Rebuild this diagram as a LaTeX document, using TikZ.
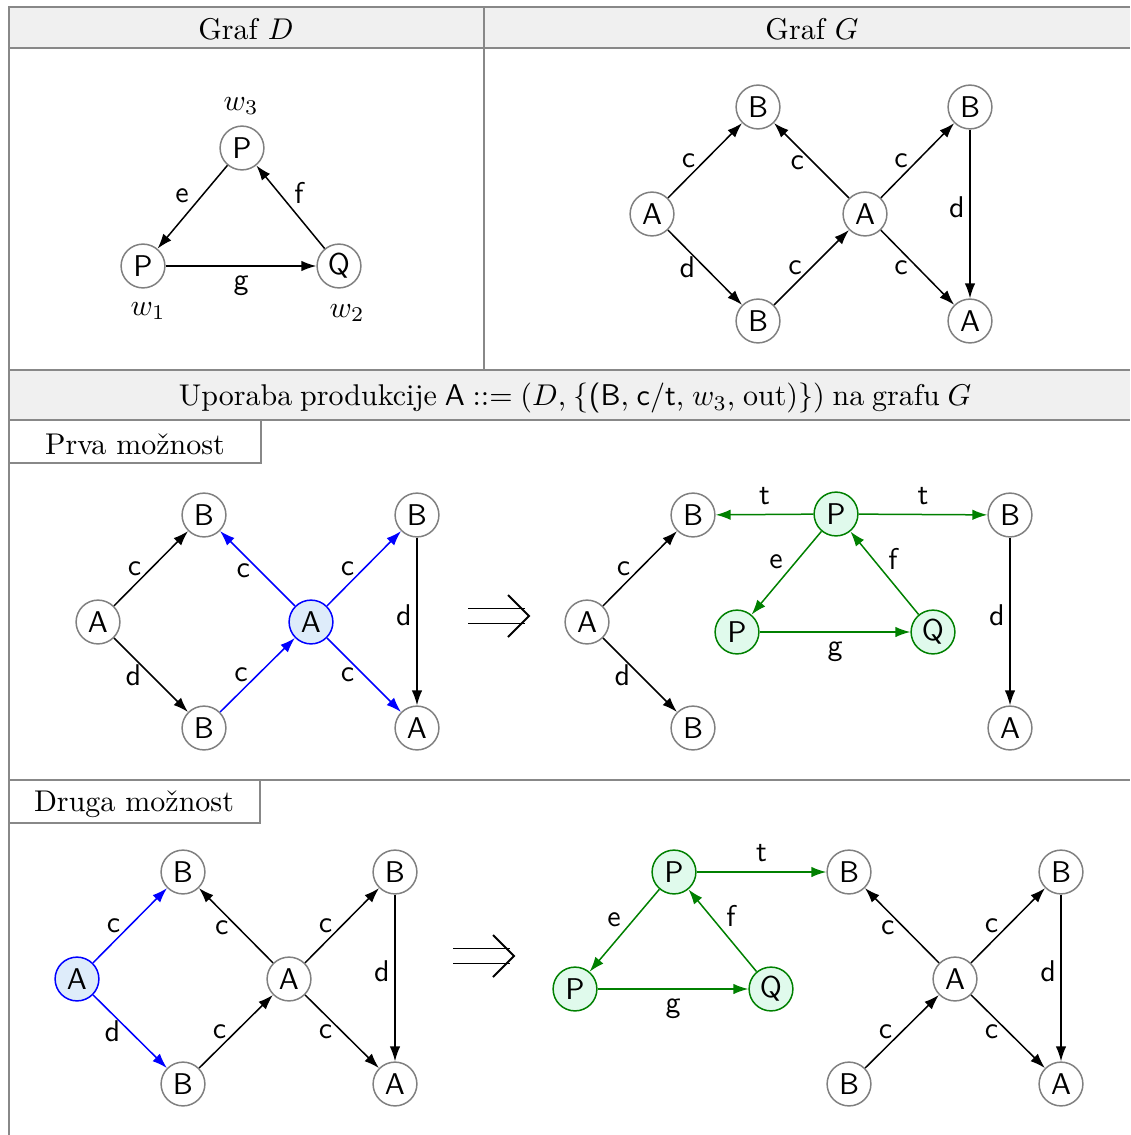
\documentclass[tikz,border=0pt]{standalone}
\usepackage{fontspec}
\usetikzlibrary{arrows.meta}
\definecolor{hdrgray}{RGB}{240,240,240}
\definecolor{rulegray}{RGB}{136,136,136}
\definecolor{selblue}{RGB}{222,236,250}
\definecolor{newgreen}{RGB}{0,128,0}
\definecolor{newfill}{RGB}{224,250,236}

\tikzset{
  pics/dblarrow/.style={code={
    \draw[line width=0.6pt] (-31,-7.5) -- (26,-7.5) (-31,7.5) -- (26,7.5);
    \draw[line width=0.6pt] (9,-21) -- (30,0) -- (9,21);
  }}
}

\begin{document}
\begin{tikzpicture}[x={(0.3333pt,0)}, y={(0,-0.3333pt)},
  >={Latex[length=5pt,width=3.5pt]},
  vertex/.style={circle, draw=gray, line width=0.5pt, minimum size=14.6pt, inner sep=0pt, font=\sffamily},
  selvertex/.style={vertex, draw=blue, fill=selblue},
  newvertex/.style={vertex, draw=newgreen, fill=newfill},
  con/.style={->, line width=0.5pt},
  selcon/.style={con, blue},
  newcon/.style={con, newgreen},
  lab/.style={font=\sffamily, inner sep=3pt, text=black},
  vlab/.style={lab, left, pos=0.46, inner sep=1.5pt},
  tlab/.style={lab, inner sep=1pt},
  rule/.style={draw=rulegray, line width=0.7pt}]
  \useasboundingbox (0,0) rectangle (1130,1135);

  % table
  \fill[hdrgray] (9,7) rectangle (1130,48);
  \fill[hdrgray] (9,370) rectangle (1130,420);
  \draw[rule] (1130,7) -- (9,7) -- (9,1135);
  \draw[rule] (9,48) -- (1130,48);
  \draw[rule] (484,7) -- (484,370);
  \draw[rule] (9,370) -- (1130,370);
  \draw[rule] (9,420) -- (1130,420);
  \draw[rule] (9,780) -- (1130,780);
  \draw[rule] (9,463) -- (261,463) -- (261,420);
  \draw[rule] (9,823) -- (260,823) -- (260,780);

  \node (hD) at (246,29) {Graf $D$};
  \node (hG) at (812,29) {Graf $G$};
  \node (hU) at (575,398) {\spaceskip=2.6pt plus 1pt minus 0.5pt Uporaba produkcije \textsf{A} ::= ($D$, $\{$\textsf{(B}, \textsf{c/t}, $w_3$, out)$\}$) na grafu $G$};
  \node (hP) at (135,444) {Prva možnost};
  \node (hR) at (134,804) {Druga možnost};

  % graf D
  \node[vertex] (dp3) at (242,148) {P};
  \node[vertex] (dp1) at (143,266) {P};
  \node[vertex] (dq) at (339,266) {Q};
  \node (lw3) at (241,106) {$w_3$};
  \node (lw1) at (148,311) {$w_1$};
  \node (lw2) at (347,313) {$w_2$};
  \draw[con] (dp3) -- node[tlab, above left] {e} (dp1);
  \draw[con] (dq) -- node[tlab, above right] {f} (dp3);
  \draw[con] (dp1) -- node[lab, below] {g} (dq);

  % graf G
  \node[vertex] (ga1) at (652,214) {A};
  \node[vertex] (gb1) at (758,107) {B};
  \node[vertex] (gb2) at (758,321) {B};
  \node[vertex] (ga2) at (865,214) {A};
  \node[vertex] (gb3) at (970,107) {B};
  \node[vertex] (ga3) at (970,321) {A};
  \draw[con] (ga1) -- node[lab, left] {c} (gb1);
  \draw[con] (ga1) -- node[lab, left] {d} (gb2);
  \draw[con] (gb2) -- node[lab, left] {c} (ga2);
  \draw[con] (ga2) -- node[lab, left, pos=0.47] {c} (gb1);
  \draw[con] (ga2) -- node[lab, left] {c} (gb3);
  \draw[con] (ga2) -- node[lab, left] {c} (ga3);
  \draw[con] (gb3) -- node[vlab] {d} (ga3);

  % prva moznost
  \node[vertex] (pa1) at (98,622) {A};
  \node[vertex] (pb1) at (204,515) {B};
  \node[vertex] (pb2) at (204,728) {B};
  \node[selvertex] (pa2) at (311,622) {A};
  \node[vertex] (pb3) at (417,515) {B};
  \node[vertex] (pa3) at (417,728) {A};
  \draw[con] (pa1) -- node[lab, left] {c} (pb1);
  \draw[con] (pa1) -- node[lab, left] {d} (pb2);
  \draw[selcon] (pb2) -- node[lab, left] {c} (pa2);
  \draw[selcon] (pa2) -- node[lab, left, pos=0.47] {c} (pb1);
  \draw[selcon] (pa2) -- node[lab, left] {c} (pb3);
  \draw[selcon] (pa2) -- node[lab, left] {c} (pa3);
  \draw[con] (pb3) -- node[vlab] {d} (pa3);

  \pic (imp1) at (499,616) {dblarrow};

  \node[vertex] (qa1) at (587,622) {A};
  \node[vertex] (qb1) at (693,515) {B};
  \node[vertex] (qb2) at (693,728) {B};
  \node[newvertex] (qp3) at (836,514) {P};
  \node[newvertex] (qp1) at (737,632) {P};
  \node[newvertex] (qq) at (933,632) {Q};
  \node[vertex] (qb3) at (1010,515) {B};
  \node[vertex] (qa3) at (1010,728) {A};
  \draw[con] (qa1) -- node[lab, left] {c} (qb1);
  \draw[con] (qa1) -- node[lab, left] {d} (qb2);
  \draw[newcon] (qp3) -- node[lab, above] {t} (qb1);
  \draw[newcon] (qp3) -- node[lab, above] {t} (qb3);
  \draw[newcon] (qp3) -- node[tlab, above left] {e} (qp1);
  \draw[newcon] (qq) -- node[tlab, above right] {f} (qp3);
  \draw[newcon] (qp1) -- node[lab, below] {g} (qq);
  \draw[con] (qb3) -- node[vlab] {d} (qa3);

  % druga moznost
  \node[selvertex] (ra1) at (77,979) {A};
  \node[vertex] (rb1) at (183,872) {B};
  \node[vertex] (rb2) at (183,1084) {B};
  \node[vertex] (ra2) at (289,979) {A};
  \node[vertex] (rb3) at (395,872) {B};
  \node[vertex] (ra3) at (395,1084) {A};
  \draw[selcon] (ra1) -- node[lab, left] {c} (rb1);
  \draw[selcon] (ra1) -- node[lab, left] {d} (rb2);
  \draw[con] (rb2) -- node[lab, left] {c} (ra2);
  \draw[con] (ra2) -- node[lab, left, pos=0.47] {c} (rb1);
  \draw[con] (ra2) -- node[lab, left] {c} (rb3);
  \draw[con] (ra2) -- node[lab, left] {c} (ra3);
  \draw[con] (rb3) -- node[vlab] {d} (ra3);

  \pic (imp2) at (484,956) {dblarrow};

  \node[newvertex] (sp3) at (674,872) {P};
  \node[newvertex] (sp1) at (575,989) {P};
  \node[newvertex] (sq) at (771,989) {Q};
  \node[vertex] (sb1) at (849,872) {B};
  \node[vertex] (sb2) at (849,1084) {B};
  \node[vertex] (sa2) at (955,979) {A};
  \node[vertex] (sb3) at (1061,872) {B};
  \node[vertex] (sa3) at (1061,1084) {A};
  \draw[newcon] (sp3) -- node[lab, above] {t} (sb1);
  \draw[newcon] (sp3) -- node[tlab, above left] {e} (sp1);
  \draw[newcon] (sq) -- node[tlab, above right] {f} (sp3);
  \draw[newcon] (sp1) -- node[lab, below] {g} (sq);
  \draw[con] (sb2) -- node[lab, left] {c} (sa2);
  \draw[con] (sa2) -- node[lab, left, pos=0.47] {c} (sb1);
  \draw[con] (sa2) -- node[lab, left] {c} (sb3);
  \draw[con] (sa2) -- node[lab, left] {c} (sa3);
  \draw[con] (sb3) -- node[vlab] {d} (sa3);
\end{tikzpicture}
\end{document}
